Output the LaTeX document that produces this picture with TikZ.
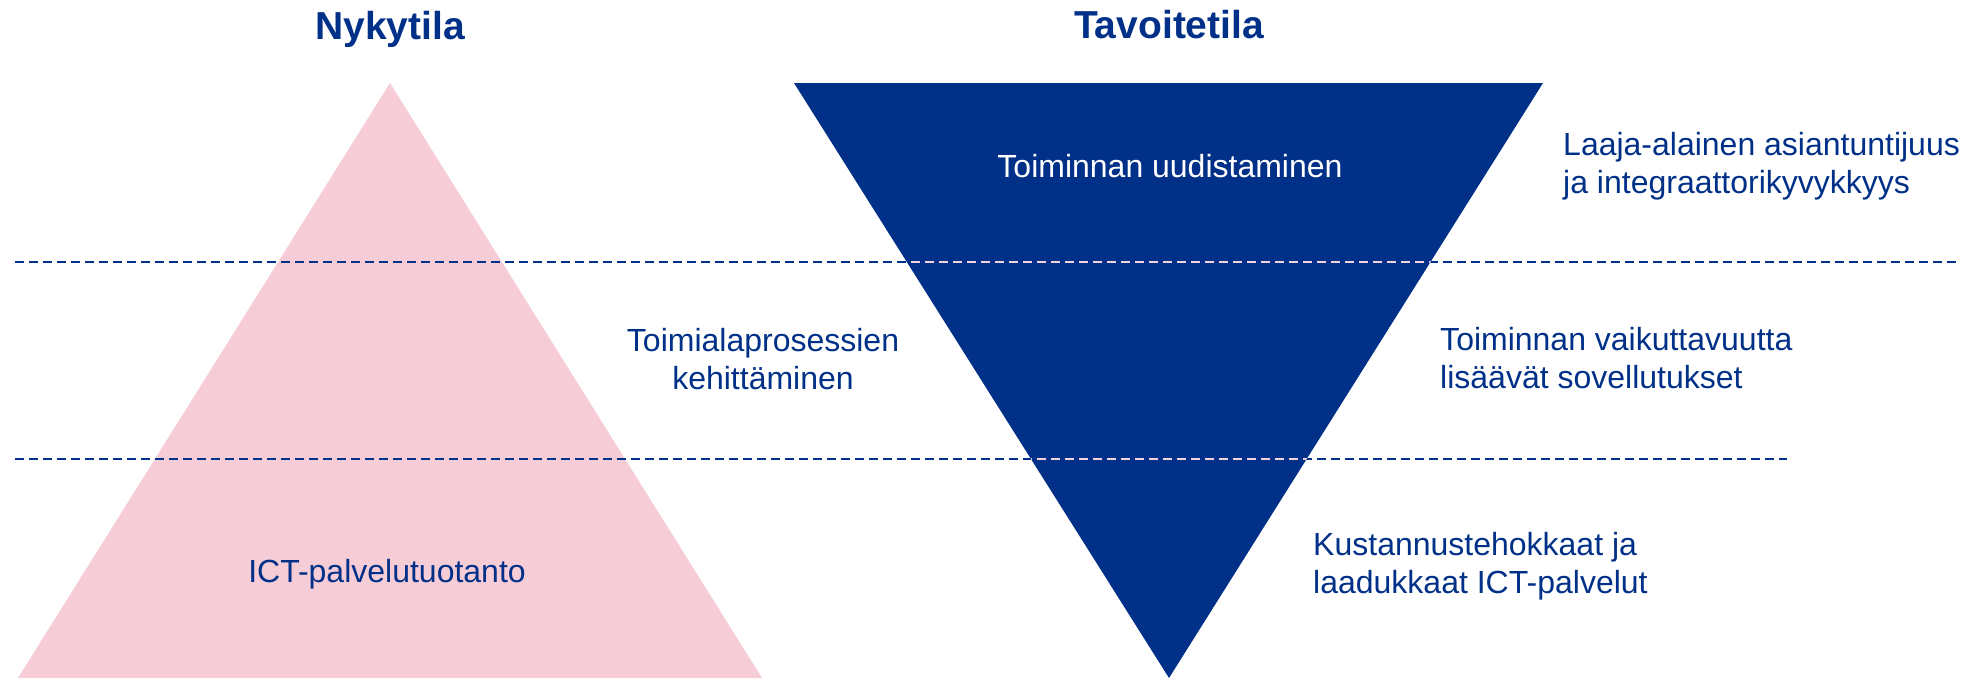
\documentclass[tikz,border=0pt]{standalone}
\usepackage{fontspec}
\setmainfont{Liberation Sans}
\definecolor{navy}{RGB}{0,48,135}
\definecolor{rose}{RGB}{246,205,215}
\definecolor{roselight}{RGB}{240,212,222}
\begin{document}
\begin{tikzpicture}[x=1pt,y=-1pt,
  dashline/.style={draw=navy, line width=2pt, dash pattern=on 9pt off 5pt},
  lbl/.style={text=navy, font=\fontsize{32}{38}\selectfont, inner sep=0pt},
  titletext/.style={text=navy, font=\fontsize{39}{46}\selectfont\bfseries, inner sep=0pt}]
\useasboundingbox (0,0) rectangle (1972,678);
% triangles
\coordinate (pA) at (390,83);
\coordinate (pL) at (18,678);
\coordinate (pR) at (762,678);
\coordinate (bL) at (794,83);
\coordinate (bR) at (1543,83);
\coordinate (bA) at (1169,678);
\fill[rose] (pA) -- (pL) -- (pR) -- cycle;
\fill[navy] (bL) -- (bR) -- (bA) -- cycle;
% dashed separators
\coordinate (d1s) at (15,261.5);
\coordinate (d1e) at (1956,261.5);
\coordinate (d2s) at (15,459);
\coordinate (d2e) at (1787,459);
\draw[dashline] (d1s) -- (d1e);
\draw[dashline] (d2s) -- (d2e);
\begin{scope}
  \clip (bL) -- (bR) -- (bA) -- cycle;
  \draw[dashline, draw=roselight] (d1s) -- (d1e);
  \draw[dashline, draw=roselight] (d2s) -- (d2e);
\end{scope}
% titles
\node[titletext, anchor=base] (t1) at (390,39) {Nykytila};
\node[titletext, anchor=base] (t2) at (1169,38) {Tavoitetila};
% labels (base anchor = baseline of the last line)
\node[lbl, text=white, anchor=base] (n1) at (1170,177) {Toiminnan uudistaminen};
\node[lbl, anchor=base west, align=left] (n2) at (1563,193) {Laaja-alainen asiantuntijuus\\ja integraattorikyvykkyys};
\node[lbl, anchor=base, align=center] (n3) at (763,389) {Toimialaprosessien\\kehittäminen};
\node[lbl, anchor=base west, align=left] (n4) at (1440,388) {Toiminnan vaikuttavuutta\\lisäävät sovellutukset};
\node[lbl, anchor=base west, align=left] (n5) at (1313,593) {Kustannustehokkaat ja\\laadukkaat ICT-palvelut};
\node[lbl, anchor=base] (n6) at (387,582) {ICT-palvelutuotanto};
\end{tikzpicture}
\end{document}
